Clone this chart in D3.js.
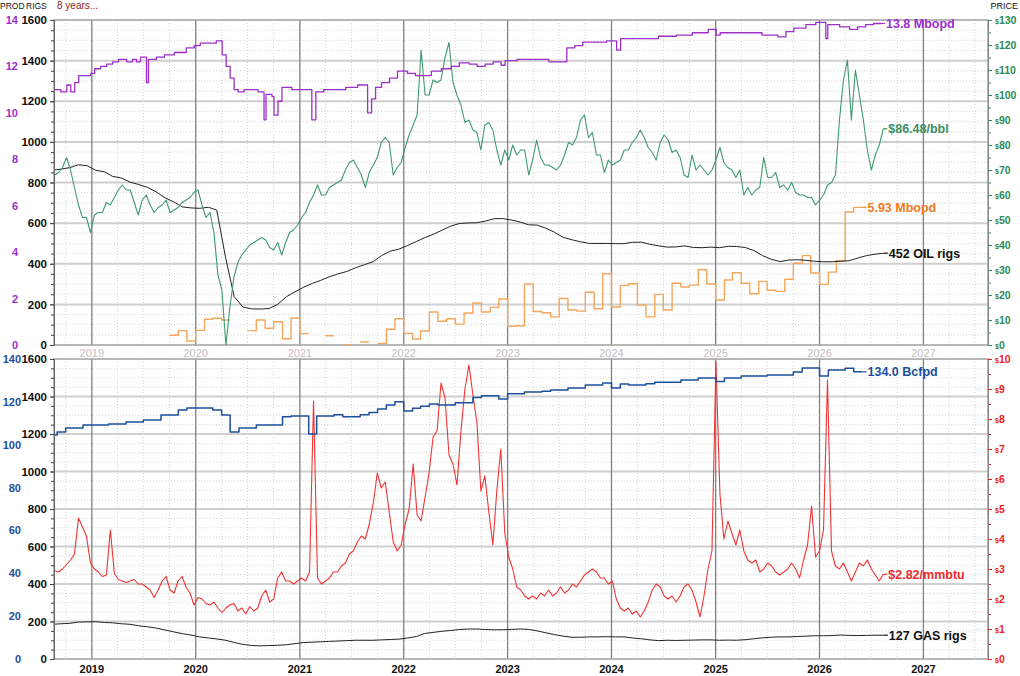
<!DOCTYPE html>
<html>
<head>
<meta charset="utf-8">
<script src="https://cdn.jsdelivr.net/npm/d3@7"></script>
<style>
  body { margin: 0; background: #fff; }
  text { font-family: "Liberation Sans", Arial, sans-serif; }
</style>
</head>
<body>
<svg id="chart" width="1020" height="676"></svg>
<script>
// ---- data ----
// oil & gas prices: one sample every 14 days from 2018-08-23
const priceStart = new Date(2018, 7, 23)
const oilPrice = [
  68,69,71,75,70,63,56,51,51,45,
  52,53,53,57,56,59,62,64,62,62,
  57,52,58,60,56,53,55,56,58,53,
  54,55,57,58,59,61,62,56,51,53,
  45,28,22,0,15,27,33,36,38,40,
  41,42,43,42,39,38,41,36,41,45,
  46,48,51,53,57,60,64,60,60,63,
  64,65,66,70,73,74,71,68,63,69,
  72,75,81,83,81,68,71,73,79,84,
  88,92,118,100,100,106,105,106,115,121,
  105,100,96,89,90,86,85,78,88,89,
  86,78,72,78,74,80,76,78,78,68,
  74,82,75,72,72,71,70,72,76,81,
  80,83,90,92,83,85,76,76,69,74,
  72,73,74,78,78,81,83,86,83,79,
  77,74,81,84,82,77,78,75,68,67,
  76,70,72,70,68,70,74,79,73,71,
  70,67,70,60,63,60,62,63,75,67,
  67,69,63,64,62,65,61,60,60,59,
  59,56,58,60,64,65,68,90,106,114,
  90,110,100,90,78,70,76,80,86.48]
const gasPrice = [
  2.95,2.9,3.0,3.15,3.3,3.5,4.7,4.4,4.1,3.2,
  3.0,2.9,2.75,2.8,4.3,2.85,2.65,2.6,2.55,2.6,
  2.65,2.5,2.5,2.4,2.3,2.05,2.3,2.6,2.75,2.3,
  2.2,2.6,2.75,2.4,2.2,1.8,2.05,2.0,1.85,1.8,
  1.9,1.7,1.55,1.7,1.8,1.85,1.6,1.7,1.5,1.75,
  1.6,1.7,2.1,2.3,1.9,2.0,2.7,2.9,2.6,2.6,
  2.5,2.6,2.7,2.6,2.9,8.6,2.7,2.5,2.6,2.7,
  2.9,2.9,3.1,3.2,3.5,3.6,3.9,4.1,4.0,4.5,
  5.2,6.2,5.7,5.9,4.9,3.9,3.6,3.8,4.5,5.0,
  6.5,4.8,4.6,5.4,6.2,7.4,7.6,9.2,8.7,6.8,
  6.5,5.8,7.6,9.0,9.8,8.8,7.9,5.6,6.1,4.9,
  3.8,5.6,7.0,4.2,3.4,3.0,2.4,2.3,2.1,2.0,
  2.1,2.0,2.2,2.1,2.3,2.1,2.2,2.4,2.2,2.3,
  2.5,2.4,2.6,2.8,2.9,3.0,2.9,2.7,2.7,2.5,
  2.6,2.0,1.7,1.6,1.7,1.5,1.6,1.4,1.6,1.9,
  2.3,2.5,2.4,2.1,2.0,2.1,1.9,2.1,2.4,2.5,
  2.3,1.9,1.4,2.1,3.0,3.6,9.9,5.5,4.0,4.6,
  4.2,3.8,4.3,3.6,3.3,3.2,3.3,2.9,3.0,3.2,
  3.1,2.9,2.8,2.9,3.0,3.2,3.0,2.7,3.3,3.8,
  5.1,3.4,3.6,4.3,9.3,3.6,3.1,3.0,3.2,2.9,
  2.6,2.9,3.2,3.1,3.3,3.0,2.8,2.6,2.82]

// rig counts: monthly (mid-month) from Aug 2018 to Aug 2026
const rigStart = new Date(2018, 7, 15)
const oilRigs = [
  860,866,873,887,883,
  860,853,830,822,802,790,776,754,725,705,680,675,
  673,678,664,430,238,187,178,177,180,200,238,262,
  285,304,318,336,350,362,380,395,410,440,462,472,
  490,510,528,545,565,585,598,601,602,610,622,622,
  615,605,592,590,575,555,530,518,508,500,500,500,
  499,499,506,506,496,488,482,483,488,480,479,482,
  479,486,485,480,465,440,422,411,418,420,417,412,
  410,410,412,415,428,440,447,452]
const gasRigs = [
  185,188,190,197,198,
  199,195,193,188,185,177,172,165,155,145,135,128,
  118,112,107,100,88,78,72,70,72,73,76,82,
  88,90,92,94,96,98,100,100,100,102,104,106,
  112,120,136,142,148,152,157,160,160,157,156,156,
  158,160,158,150,140,130,122,116,116,118,118,119,
  118,118,112,108,102,98,100,99,100,101,102,102,
  100,101,100,103,108,113,116,118,118,120,122,124,
  124,125,128,126,125,126,127,127]

// gas production (Bcfpd): monthly from Aug 2018 to May 2026
const gasProdStart = new Date(2018, 7, 1)
const gasProd = [
  104.5,105.9,107.8,107.8,109.2,
  109.2,109.2,109.7,109.7,110.6,110.6,111.5,111.5,113.9,113.9,116.2,117.1,
  117.1,117.1,116.2,113.9,105.9,107.8,107.8,109.2,109.2,109.2,113.0,113.4,
  113.4,105.0,113.4,113.4,114.0,113.0,113.0,114.0,115.0,116.7,118.5,120.0,
  115.7,117.0,118.0,119.0,118.5,118.5,119.6,119.6,122.0,122.9,122.9,121.3,
  123.8,123.8,124.6,124.6,125.0,125.5,125.5,126.5,126.5,127.9,127.9,128.8,
  126.5,128.3,127.9,127.9,128.5,129.2,129.2,129.2,130.2,130.2,131.1,131.1,
  129.5,131.1,131.1,132.1,132.1,132.1,132.5,132.5,132.5,133.9,135.8,135.8,
  132.1,134.9,134.9,135.7,134.0]

// orange Mbopd series: monthly from Oct 2019 to May 2026 (null = no value)
const orangeStart = new Date(2019, 9, 1)
const orangeMbopd = [
  0.42,0.62,0.17,
  0.63,1.11,1.15,1.08,null,null,0.62,1.08,0.72,1.0,0.27,1.16,
  0.49,null,null,0.40,null,0.01,null,0.13,null,0.07,0.68,1.13,
  0.50,0.26,0.60,1.42,1.02,1.13,0.90,1.38,1.81,1.42,1.62,1.98,
  0.81,0.83,2.63,1.44,1.39,1.21,2.0,1.51,1.46,2.27,1.56,3.07,
  1.64,2.57,2.64,1.72,1.21,2.18,1.51,2.66,2.50,2.58,3.24,2.63,
  1.94,2.80,3.11,2.66,2.21,2.74,2.36,2.31,2.83,3.52,3.85,3.10,
  2.61,3.14,3.63,5.73,5.93]

// oil production (Mbopd): weekly-ish steps [date, value]
const oilProd = [
  ["2018-08-21",11.0],["2018-09-14",10.9],["2018-10-05",11.2],["2018-10-19",10.9],["2018-11-02",11.3],["2018-11-16",11.6],["2018-12-28",11.7],
  ["2019-01-11",11.9],["2019-02-01",12.0],["2019-02-22",12.1],["2019-03-15",12.2],["2019-04-05",12.3],["2019-05-03",12.2],["2019-05-24",12.3],
  ["2019-06-07",12.2],["2019-06-21",12.4],["2019-07-12",11.3],["2019-07-19",12.3],["2019-08-16",12.4],["2019-09-13",12.5],["2019-10-18",12.6],
  ["2019-11-29",12.8],["2019-12-27",12.9],["2020-01-17",13.0],["2020-03-13",13.1],["2020-04-03",12.5],["2020-04-17",12.0],["2020-05-01",11.5],
  ["2020-05-15",11.0],["2020-05-29",10.9],["2020-06-19",11.0],["2020-08-07",10.9],["2020-08-28",9.7],["2020-09-04",10.8],["2020-09-25",10.7],
  ["2020-10-02",9.9],["2020-10-16",10.5],["2020-10-30",11.1],["2020-12-04",11.0],["2021-02-12",9.7],["2021-02-26",10.9],["2021-03-26",11.0],
  ["2021-06-11",11.1],["2021-07-23",11.2],["2021-08-27",10.0],["2021-09-10",10.6],["2021-09-24",11.1],["2021-10-15",11.3],["2021-11-12",11.5],
  ["2021-12-10",11.8],["2022-01-14",11.7],["2022-02-11",11.6],["2022-03-18",11.6],["2022-04-08",11.8],["2022-05-13",11.9],["2022-06-17",12.0],
  ["2022-07-15",12.15],["2022-08-19",12.1],["2022-09-16",12.0],["2022-10-14",12.1],["2022-11-11",12.2],["2022-12-09",12.05],["2022-12-23",12.25],
  ["2023-02-03",12.3],["2023-04-14",12.3],["2023-05-26",12.2],["2023-07-28",12.8],["2023-08-25",12.9],["2023-09-22",13.05],["2023-12-15",13.1],
  ["2024-01-19",12.7],["2024-02-02",13.2],["2024-04-12",13.2],["2024-06-14",13.3],["2024-08-16",13.35],["2024-10-11",13.45],["2024-12-06",13.6],
  ["2025-01-03",13.35],["2025-01-17",13.45],["2025-04-11",13.45],["2025-06-13",13.35],["2025-08-08",13.27],["2025-09-05",13.5],["2025-10-03",13.65],
  ["2025-11-14",13.8],["2025-12-19",13.9],["2026-01-23",13.2],["2026-01-30",13.8],["2026-03-13",13.7],["2026-04-17",13.6],["2026-05-15",13.7],
  ["2026-06-12",13.8],["2026-07-10",13.85],["2026-08-05",13.85]]

const years = [2019, 2020, 2021, 2022, 2023, 2024, 2025, 2026, 2027]
const rigTicks = d3.range(0, 1601, 200)
const oilProdTicks = d3.range(0, 15, 2)
const gasProdTicks = d3.range(0, 141, 20)
const oilPriceTicks = d3.range(0, 131, 10)
const gasPriceTicks = d3.range(0, 11, 1)

// ---- layout ----
const left = 54, right = 988
const top1 = 20, bot1 = 345, top2 = 359, bot2 = 659

const svg = d3.select('#chart')

const x = d3.scaleTime()
    .domain([new Date(2018, 7, 21), new Date(2027, 7, 16)])
    .range([left, right])

const yRig1 = d3.scaleLinear().domain([0, 1600]).range([bot1, top1])
const yOilProd = d3.scaleLinear().domain([0, 14]).range([bot1, top1])
const yOil = d3.scaleLinear().domain([0, 130]).range([bot1, top1])
const yRig2 = d3.scaleLinear().domain([0, 1600]).range([bot2, top2])
const yGasProd = d3.scaleLinear().domain([0, 140]).range([bot2, top2])
const yGas = d3.scaleLinear().domain([0, 10]).range([bot2, top2])

// series helpers
const every14 = (arr) => arr.map((v, i) => ({ date: d3.timeDay.offset(priceStart, 14 * i), v }))
const monthly = (start, arr) => arr.map((v, i) => ({ date: d3.timeMonth.offset(start, i), v }))
// monthly steps: each month drawn from its first to its last day
const steps = (start, arr) => {
    const pts = []
    arr.forEach((v, i) => {
        pts.push({ date: d3.timeMonth.offset(start, i), v })
        pts.push({ date: d3.timeMonth.offset(start, i + 1), v })
    })
    return pts
}

function grid(yRig, top, bottom) {
    const g = svg.append('g')
    // dotted minor horizontals every 50 rigs
    g.selectAll('line.hmin')
        .data(d3.range(50, 1600, 50).filter(d => d % 200 !== 0))
        .join('line')
        .attr('x1', left).attr('x2', right)
        .attr('y1', d => yRig(d)).attr('y2', d => yRig(d))
        .attr('stroke', '#d4d4d4').attr('stroke-dasharray', '1,2')
    // dotted quarter verticals
    g.selectAll('line.vmin')
        .data(d3.timeMonth.every(3).range(x.domain()[0], x.domain()[1]).filter(d => d.getMonth() !== 0))
        .join('line')
        .attr('x1', d => x(d)).attr('x2', d => x(d))
        .attr('y1', top).attr('y2', bottom)
        .attr('stroke', '#d4d4d4').attr('stroke-dasharray', '1,2')
    // solid horizontals every 200 rigs
    g.selectAll('line.hmaj')
        .data(d3.range(200, 1600, 200))
        .join('line')
        .attr('x1', left).attr('x2', right)
        .attr('y1', d => yRig(d)).attr('y2', d => yRig(d))
        .attr('stroke', '#cfcfcf').attr('stroke-width', 2)
    // year lines
    g.selectAll('line.year')
        .data(years)
        .join('line')
        .attr('x1', d => x(new Date(d, 0, 1))).attr('x2', d => x(new Date(d, 0, 1)))
        .attr('y1', top).attr('y2', bottom)
        .attr('stroke', '#808080').attr('stroke-width', 1.3)
    g.append('rect')
        .attr('x', left).attr('y', top)
        .attr('width', right - left).attr('height', bottom - top)
        .attr('fill', 'none').attr('stroke', '#a0a0a0').attr('stroke-width', 1.5)
}

grid(yRig1, top1, bot1)
grid(yRig2, top2, bot2)

// clip paths
svg.append('clipPath').attr('id', 'clip1').append('rect')
    .attr('x', left).attr('y', top1 - 2).attr('width', right - left).attr('height', bot1 - top1 + 2)
svg.append('clipPath').attr('id', 'clip2').append('rect')
    .attr('x', left).attr('y', top2 - 2).attr('width', right - left).attr('height', bot2 - top2 + 2)

function drawLine(data, y, color, width, clip, curve) {
    const line = d3.line()
        .defined(d => d.v !== null)
        .x(d => x(d.date))
        .y(d => y(d.v))
        .curve(curve || d3.curveLinear)
    svg.append('path')
        .datum(data)
        .attr('clip-path', 'url(#' + clip + ')')
        .attr('d', line)
        .attr('fill', 'none')
        .attr('stroke', color)
        .attr('stroke-width', width)
        .attr('stroke-linejoin', 'round')
}

// end-of-series label with a short leader
function endLabel(data, y, text, color) {
    const last = data.filter(d => d.v !== null).at(-1)
    const px = x(last.date), py = y(last.v)
    svg.append('line')
        .attr('x1', px).attr('x2', px + 4).attr('y1', py).attr('y2', py)
        .attr('stroke', color).attr('stroke-width', 1.2)
    svg.append('text')
        .attr('x', px + 5).attr('y', py).attr('dy', '0.36em')
        .attr('fill', color)
        .style('font-size', '12.5px').style('font-weight', 'bold')
        .text(text)
}

// ---- top panel ----
const oilPriceData = every14(oilPrice)
const oilRigData = monthly(rigStart, oilRigs)
const orangeData = steps(orangeStart, orangeMbopd)
const oilProdData = oilProd.map(d => ({ date: new Date(d[0] + 'T00:00'), v: d[1] }))

drawLine(orangeData, yOilProd, '#f4a65c', 1.4, 'clip1')
drawLine(oilRigData, yRig1, '#222', 1, 'clip1')
drawLine(oilPriceData, yOil, '#3f9a6e', 1.1, 'clip1')
drawLine(oilProdData, yOilProd, '#9b30c8', 1.3, 'clip1', d3.curveStepAfter)

endLabel(oilProdData, yOilProd, d3.format('.1f')(oilProdData.at(-1).v) + ' Mbopd', '#9b30c8')
endLabel(oilPriceData, yOil, '$' + d3.format('.2f')(oilPrice.at(-1)) + '/bbl', '#3a8f63')
endLabel(orangeData, yOilProd, d3.format('.2f')(orangeMbopd.at(-1)) + ' Mbopd', '#f07a20')
endLabel(oilRigData, yRig1, oilRigs.at(-1) + ' OIL rigs', '#111')

// ---- bottom panel ----
const gasPriceData = every14(gasPrice)
const gasRigData = monthly(rigStart, gasRigs)
const gasProdData = steps(gasProdStart, gasProd)

drawLine(gasRigData, yRig2, '#222', 1, 'clip2')
drawLine(gasPriceData, yGas, '#f03434', 1.1, 'clip2')
drawLine(gasProdData, yGasProd, '#1d4f9c', 1.5, 'clip2')

endLabel(gasProdData, yGasProd, d3.format('.1f')(gasProd.at(-1)) + ' Bcfpd', '#1d4f9c')
endLabel(gasPriceData, yGas, '$' + d3.format('.2f')(gasPrice.at(-1)) + '/mmbtu', '#ee2a2a')
endLabel(gasRigData, yRig2, gasRigs.at(-1) + ' GAS rigs', '#111')

// ---- axes ----
function rigAxis(y) {
    svg.append('g')
        .attr('transform', 'translate(' + left + ',0)')
        .call(d3.axisLeft(y).tickValues(d3.range(0, 1601, 50)).tickSize(3).tickFormat(''))
        .call(g => g.select('.domain').remove())
        .call(g => g.selectAll('line').attr('stroke', '#444'))
    svg.append('g')
        .attr('transform', 'translate(' + left + ',0)')
        .call(d3.axisLeft(y).tickValues(rigTicks).tickSize(4).tickPadding(3).tickFormat(d3.format('d')))
        .call(g => g.select('.domain').attr('stroke', '#666'))
        .call(g => g.selectAll('line').attr('stroke', '#444'))
        .call(g => g.selectAll('text')
            .attr('fill', '#111')
            .style('font-size', '11.5px').style('font-weight', 'bold')
            .style('font-family', '"Liberation Sans", Arial, sans-serif'))
}

function prodAxis(y, ticks, color, xpos) {
    svg.append('g')
        .attr('transform', 'translate(' + xpos + ',0)')
        .call(d3.axisLeft(y).tickValues(ticks).tickSize(0).tickPadding(0).tickFormat(d3.format('d')))
        .call(g => g.select('.domain').remove())
        .call(g => g.selectAll('text')
            .attr('fill', color)
            .style('font-size', '11px').style('font-weight', 'bold')
            .style('font-family', '"Liberation Sans", Arial, sans-serif'))
}

function priceAxis(y, ticks, minor, color) {
    svg.append('g')
        .attr('transform', 'translate(' + right + ',0)')
        .call(d3.axisRight(y).tickValues(minor).tickSize(3).tickFormat(''))
        .call(g => g.select('.domain').remove())
        .call(g => g.selectAll('line').attr('stroke', color))
    const ax = svg.append('g')
        .attr('transform', 'translate(' + right + ',0)')
        .call(d3.axisRight(y).tickValues(ticks).tickSize(4).tickPadding(3))
        .call(g => g.select('.domain').attr('stroke', '#888'))
        .call(g => g.selectAll('line').attr('stroke', color))
    ax.selectAll('.tick text').each(function (d) {
        const t = d3.select(this).text(null)
            .attr('fill', color)
            .style('font-weight', 'bold')
            .style('font-family', '"Liberation Sans", Arial, sans-serif')
        t.append('tspan').style('font-size', '7px').text('$')
        t.append('tspan').style('font-size', '10.5px').text(d)
    })
}

rigAxis(yRig1)
rigAxis(yRig2)
prodAxis(yOilProd, oilProdTicks, '#9b30c8', 18)
prodAxis(yGasProd, gasProdTicks, '#1d4f9c', 21)
priceAxis(yOil, oilPriceTicks, d3.range(5, 130, 10), '#2e8b57')
priceAxis(yGas, gasPriceTicks, d3.range(0.5, 10, 1), '#ee1c1c')

// year labels
svg.append('g').selectAll('text')
    .data(years)
    .join('text')
    .attr('x', d => x(new Date(d, 0, 1)))
    .attr('y', 356.5)
    .attr('text-anchor', 'middle')
    .attr('fill', '#c0c0c0')
    .style('font-size', '11px')
    .text(d => d)
svg.append('g').selectAll('text')
    .data(years)
    .join('text')
    .attr('x', d => x(new Date(d, 0, 1)))
    .attr('y', 672.5)
    .attr('text-anchor', 'middle')
    .attr('fill', '#111')
    .style('font-size', '11px').style('font-weight', 'bold')
    .text(d => d)

// header
svg.append('text').attr('x', 0).attr('y', 8.5).style('font-size', '8.5px').attr('fill', '#111').text('PROD')
svg.append('text').attr('x', 26).attr('y', 8.5).style('font-size', '8.5px').attr('fill', '#111').text('RIGS')
svg.append('text').attr('x', 57).attr('y', 9).style('font-size', '10px').attr('fill', '#8b1a1a').text('8 years...')
svg.append('text').attr('x', 1018).attr('y', 8.5).attr('text-anchor', 'end').style('font-size', '9px').attr('fill', '#111').text('PRICE')
</script>
</body>
</html>
